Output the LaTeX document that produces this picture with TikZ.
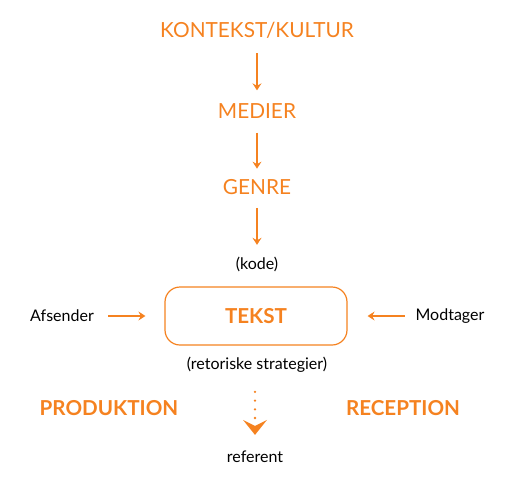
\documentclass[tikz,border=0pt]{standalone}
\usepackage{fontspec}
\setmainfont{Lato}
\usetikzlibrary{arrows.meta}
\definecolor{kulturorange}{RGB}{245,130,32}
\begin{document}
\begin{tikzpicture}[x=1pt,y=-1pt]
\tikzstyle{every node}+=[inner sep=0pt]
\tikzstyle{niveau}=[text=kulturorange,font=\fontsize{20.8}{24}\selectfont]
\tikzstyle{pol}=[text=kulturorange,font=\fontsize{20.6}{24}\selectfont\bfseries]
\tikzstyle{lille}=[text=black,font=\fontsize{16}{18}\selectfont]
\tikzstyle{pil}=[draw=kulturorange,line width=1.2pt,-{Stealth[length=7pt,width=9pt,inset=2.5pt]}]
\useasboundingbox (0,0) rectangle (512,488);
% niveauer
\node [niveau] (kontekst) at (257,30) {KONTEKST/KULTUR};
\node [niveau] (medier) at (257,111) {MEDIER};
\node [niveau] (genre) at (257,187) {GENRE};
\node [lille] (kode) at (257,264) {(kode)};
% teksten
\node [draw=kulturorange,line width=1.2pt,rounded corners=15pt,minimum width=182pt,minimum height=58pt,pol] (tekst) at (256,316) {TEKST};
\node [lille] (afsender) at (62,316) {Afsender};
\node [lille] (modtager) at (450,316) {Modtager};
\node [lille] (strategier) at (257,365) {(retoriske strategier)};
\node [pol] (produktion) at (109,408) {PRODUKTION};
\node [pol] (reception) at (403,408) {RECEPTION};
\node [lille] (referent) at (255,457) {referent};
% pile
\draw [pil] (kontekst.south) ++(0,15) -- ++(0,37);
\draw [pil] (medier.south) ++(0,14) -- ++(0,36);
\draw [pil] (genre.south) ++(0,13) -- ++(0,37);
\draw [pil] (tekst.west) ++(-56,0) -- ++(37,0);
\draw [pil] (tekst.east) ++(57,0) -- ++(-37,0);
\draw [draw=kulturorange,line width=2.6pt,line cap=round,dash pattern=on 0pt off 8.7pt] (referent.north) ++(0,-59) -- ++(0,27);
\draw [draw=none,fill=kulturorange] (referent.north) ++(0,-16) -- ++(-12,-15) -- ++(12,6) -- ++(12,-6) -- cycle;
\end{tikzpicture}
\end{document}
